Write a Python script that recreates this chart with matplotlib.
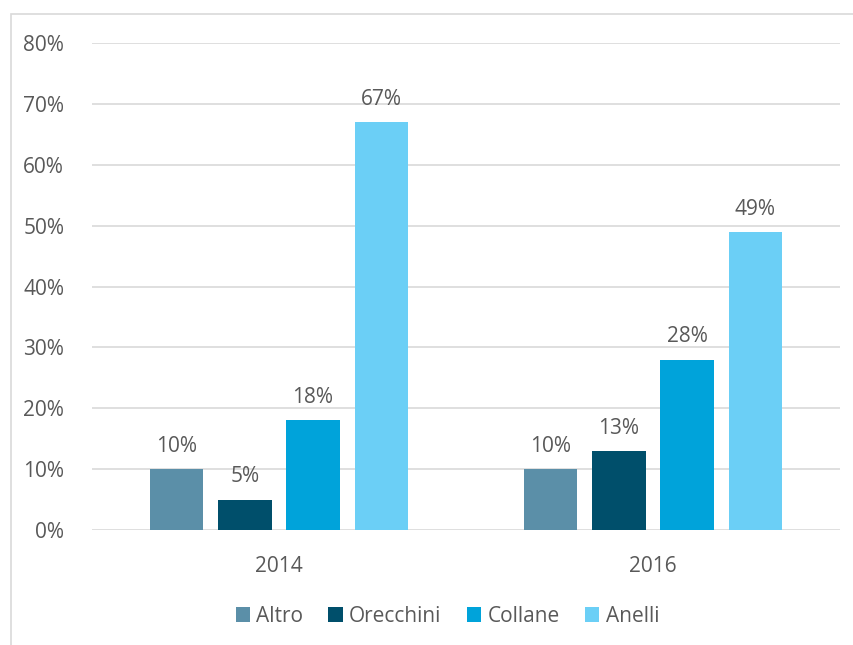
import matplotlib.pyplot as plt
import numpy as np
from matplotlib.patches import Rectangle
from matplotlib.ticker import PercentFormatter

plt.rcParams['font.family'] = ['Open Sans', 'DejaVu Sans']

years = ['2014', '2016']
series = ['Altro', 'Orecchini', 'Collane', 'Anelli']
altro = [10, 10]
orecchini = [5, 13]
collane = [18, 28]
anelli = [67, 49]
colors = ['#5B8FA8', '#004F6B', '#00A3DA', '#6BCFF6']

values = [altro, orecchini, collane, anelli]
text_color = '#595959'
fs = 15

fig = plt.figure(figsize=(8.54, 6.45), dpi=100)
ax = fig.add_axes([0.1077, 0.1783, 0.8759, 0.755])

x = np.arange(len(years))
width = 0.142
step = 0.182
for i, (name, vals, col) in enumerate(zip(series, values, colors)):
    pos = x + (i - 1.5) * step
    bars = ax.bar(pos, vals, width, color=col, label=name, zorder=3)
    for b, v in zip(bars, vals):
        ax.text(b.get_x() + b.get_width() / 2, v + 2.0, f'{v}%',
                ha='center', va='bottom', fontsize=fs, color=text_color)

ax.set_xlim(-0.5, 1.5)
ax.set_ylim(0, 80)
ax.set_yticks(range(0, 81, 10))
ax.yaxis.set_major_formatter(PercentFormatter(decimals=0))
ax.set_xticks(x)
ax.set_xticklabels(years)
ax.tick_params(length=0, labelsize=fs, colors=text_color)
ax.tick_params(axis='y', pad=20)
ax.tick_params(axis='x', pad=19)
ax.grid(axis='y', color='#D9D9D9', linewidth=1.2, zorder=0)
for s in ax.spines.values():
    s.set_visible(False)

ax.legend(loc='upper center', bbox_to_anchor=(0.475, -0.117), ncol=4,
          frameon=False, fontsize=fs, handlelength=0.7, handleheight=0.7,
          handletextpad=0.3, columnspacing=1.2, labelcolor=text_color)

# light frame around the chart area
fig.patches.append(Rectangle((11 / 854, -0.1), 1.2, 1 - 14 / 645 + 0.1,
                             transform=fig.transFigure, fill=False,
                             edgecolor='#D9D9D9', linewidth=1.2))

fig.savefig('out.png', dpi=100)
